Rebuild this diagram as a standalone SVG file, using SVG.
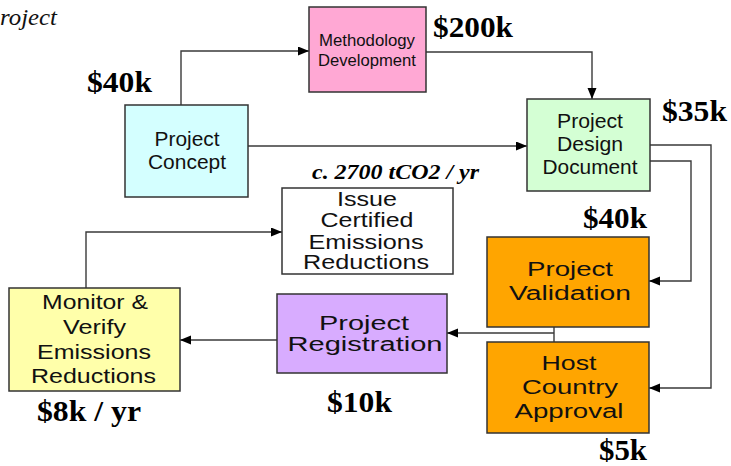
<svg xmlns="http://www.w3.org/2000/svg" width="731" height="466" viewBox="0 0 731 466">
  <style>
    .box { stroke: #333333; stroke-width: 1.5; }
    .lbl { font-family: "Liberation Sans", Arial, sans-serif; fill: #111111; text-anchor: middle; }
    .cost { font-family: "Liberation Serif", "Times New Roman", serif; font-weight: bold; font-size: 29px; fill: #000000; }
    .conn { fill: none; stroke: #3a3a3a; stroke-width: 1.4; }
  </style>
  <defs>
    <marker id="arrow" markerUnits="userSpaceOnUse" markerWidth="12" markerHeight="10" refX="11" refY="4.5" orient="auto">
      <path d="M0,0 L11,4.5 L0,9 Z" fill="#000000"/>
    </marker>
  </defs>
  <rect width="731" height="466" fill="#ffffff"/>

  <!-- heading fragment -->
  <text x="0" y="25" font-family="Liberation Serif, 'Times New Roman', serif" font-style="italic" font-size="23" textLength="57" lengthAdjust="spacingAndGlyphs" fill="#111111">roject</text>

  <!-- connectors -->
  <g id="connectors">
    <path class="conn" d="M181,105 V51 H309" marker-end="url(#arrow)"/>
    <path class="conn" d="M426,52 H592 V99" marker-end="url(#arrow)"/>
    <path class="conn" d="M248,146 H527" marker-end="url(#arrow)"/>
    <path class="conn" d="M650,161 H691 V281 H649" marker-end="url(#arrow)"/>
    <path class="conn" d="M650,145 H711 V388 H649" marker-end="url(#arrow)"/>
    <path class="conn" d="M554,327 V342"/>
    <path class="conn" d="M554,333 H447" marker-end="url(#arrow)"/>
    <path class="conn" d="M277,340 H180" marker-end="url(#arrow)"/>
    <path class="conn" d="M86,288 V232 H282" marker-end="url(#arrow)"/>
  </g>

  <g id="methodology">
    <rect class="box" x="309" y="7" width="117" height="85" fill="#FFA8D4"/>
    <text class="lbl" font-size="16" x="367" y="46" textLength="96" lengthAdjust="spacingAndGlyphs">Methodology</text>
    <text class="lbl" font-size="16" x="367" y="66" textLength="98" lengthAdjust="spacingAndGlyphs">Development</text>
  </g>

  <g id="concept">
    <rect class="box" x="125" y="105" width="123" height="92" fill="#D4FFFF"/>
    <text class="lbl" font-size="20" x="187" y="146" textLength="65" lengthAdjust="spacingAndGlyphs">Project</text>
    <text class="lbl" font-size="20" x="187" y="169" textLength="78" lengthAdjust="spacingAndGlyphs">Concept</text>
  </g>

  <g id="pdd">
    <rect class="box" x="527" y="99" width="123" height="92" fill="#D4FFD4"/>
    <text class="lbl" font-size="20" x="590" y="128" textLength="66" lengthAdjust="spacingAndGlyphs">Project</text>
    <text class="lbl" font-size="20" x="590" y="151" textLength="66" lengthAdjust="spacingAndGlyphs">Design</text>
    <text class="lbl" font-size="20" x="590" y="174" textLength="95" lengthAdjust="spacingAndGlyphs">Document</text>
  </g>

  <g id="issue">
    <rect class="box" x="282" y="188" width="171" height="86" fill="#FFFFFF"/>
    <text class="lbl" font-size="19.5" x="367" y="206" textLength="60" lengthAdjust="spacingAndGlyphs">Issue</text>
    <text class="lbl" font-size="19.5" x="367" y="227" textLength="93" lengthAdjust="spacingAndGlyphs">Certified</text>
    <text class="lbl" font-size="19.5" x="366" y="249" textLength="115" lengthAdjust="spacingAndGlyphs">Emissions</text>
    <text class="lbl" font-size="19.5" x="366" y="269" textLength="126" lengthAdjust="spacingAndGlyphs">Reductions</text>
  </g>

  <g id="validation">
    <rect class="box" x="487" y="237" width="162" height="90" fill="#FFA500"/>
    <text class="lbl" font-size="20" x="570" y="276" textLength="86" lengthAdjust="spacingAndGlyphs">Project</text>
    <text class="lbl" font-size="20" x="570" y="300" textLength="122" lengthAdjust="spacingAndGlyphs">Validation</text>
  </g>

  <g id="host">
    <rect class="box" x="487" y="342" width="162" height="91" fill="#FFA500"/>
    <text class="lbl" font-size="20" x="569" y="370" textLength="55" lengthAdjust="spacingAndGlyphs">Host</text>
    <text class="lbl" font-size="20" x="570" y="394" textLength="96" lengthAdjust="spacingAndGlyphs">Country</text>
    <text class="lbl" font-size="20" x="569" y="418" textLength="109" lengthAdjust="spacingAndGlyphs">Approval</text>
  </g>

  <g id="registration">
    <rect class="box" x="277" y="294" width="170" height="79" fill="#D8ACFF"/>
    <text class="lbl" font-size="20" x="364" y="330" textLength="90" lengthAdjust="spacingAndGlyphs">Project</text>
    <text class="lbl" font-size="20" x="365" y="351" textLength="155" lengthAdjust="spacingAndGlyphs">Registration</text>
  </g>

  <g id="monitor">
    <rect class="box" x="9" y="288" width="171" height="103" fill="#FFFFAA"/>
    <text class="lbl" font-size="21" x="95" y="309" textLength="106" lengthAdjust="spacingAndGlyphs">Monitor &amp;</text>
    <text class="lbl" font-size="21" x="94.5" y="334" textLength="63" lengthAdjust="spacingAndGlyphs">Verify</text>
    <text class="lbl" font-size="21" x="94" y="359" textLength="114" lengthAdjust="spacingAndGlyphs">Emissions</text>
    <text class="lbl" font-size="21" x="93.5" y="383" textLength="125" lengthAdjust="spacingAndGlyphs">Reductions</text>
  </g>

  <!-- cost and volume annotations -->
  <g id="annotations">
    <text class="cost" x="87" y="92" textLength="65" lengthAdjust="spacingAndGlyphs">$40k</text>
    <text class="cost" x="433" y="37" textLength="80" lengthAdjust="spacingAndGlyphs">$200k</text>
    <text class="cost" x="662" y="121" textLength="65" lengthAdjust="spacingAndGlyphs">$35k</text>
    <text class="cost" x="583" y="228" textLength="64" lengthAdjust="spacingAndGlyphs">$40k</text>
    <text class="cost" x="599" y="460" textLength="48" lengthAdjust="spacingAndGlyphs">$5k</text>
    <text class="cost" x="327" y="412" textLength="65" lengthAdjust="spacingAndGlyphs">$10k</text>
    <text class="cost" x="37" y="421" textLength="104" lengthAdjust="spacingAndGlyphs">$8k / yr</text>
    <text x="312" y="179" font-family="Liberation Serif, 'Times New Roman', serif" font-style="italic" font-weight="bold" font-size="20" textLength="167" lengthAdjust="spacingAndGlyphs" fill="#000000">c. 2700 tCO2 / yr</text>
  </g>
</svg>
